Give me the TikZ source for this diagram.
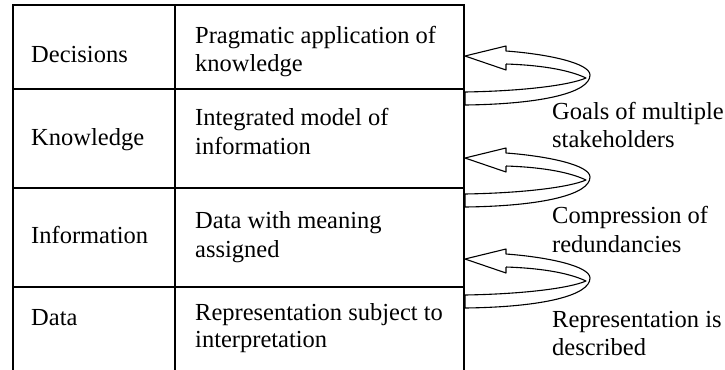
\documentclass[tikz,border=0pt]{standalone}
\usepackage{fontspec}
\setmainfont{Liberation Serif}
\begin{document}
\begin{tikzpicture}[x=1bp,y=-1bp,
  grid/.style={line width=1.3bp,black},
  arr/.style={line width=1.1bp,black,line join=round},
  txt/.style={anchor=base west,inner sep=0pt,text=black,font=\fontsize{24.5bp}{28bp}\selectfont},
  ribbon/.pic={
    \draw[arr] (41,8) -- (41,14) -- (0,0) -- (41,-10) -- (41,-5)
      .. controls (82,-2) and (125,7) .. (125,19)
      .. controls (125,36) and (80,48) .. (0,49) -- (0,36)
      .. controls (60,35) and (105,29) .. (121,22)
      .. controls (102,13) and (72,9) .. (41,8);
  }]
\useasboundingbox (0,0) rectangle (725,369);
% table
\draw[grid] (13,370) -- (13,5) -- (464,5) -- (464,370);
\draw[grid] (175,5) -- (175,370);
\draw[grid] (13,89) -- (464,89);
\draw[grid] (13,188) -- (464,188);
\draw[grid] (13,287) -- (464,287);
% left column
\node[txt] (dec) at (31,62) {Decisions};
\node[txt] (kno) at (31,145) {Knowledge};
\node[txt] (inf) at (31,243) {Information};
\node[txt] (dat) at (31,325) {Data};
% right column
\node[txt] (dec1) at (195,43) {Pragmatic application of};
\node[txt] (dec2) at (195,71) {knowledge};
\node[txt] (kno1) at (195,125) {Integrated model of};
\node[txt] (kno2) at (195,154) {information};
\node[txt] (inf1) at (195,228) {Data with meaning};
\node[txt] (inf2) at (195,257) {assigned};
\node[txt] (dat1) at (195,320) {Representation subject to};
\node[txt] (dat2) at (195,347) {interpretation};
% arrows
\pic at (465,56) {ribbon};
\pic at (465,158) {ribbon};
\pic at (465,259) {ribbon};
% arrow labels
\node[txt] (g1) at (552,119) {Goals of multiple};
\node[txt] (g2) at (552,147) {stakeholders};
\node[txt] (c1) at (552,223) {Compression of};
\node[txt] (c2) at (552,252) {redundancies};
\node[txt] (r1) at (552,327) {Representation is};
\node[txt] (r2) at (552,355) {described};
\end{tikzpicture}
\end{document}
